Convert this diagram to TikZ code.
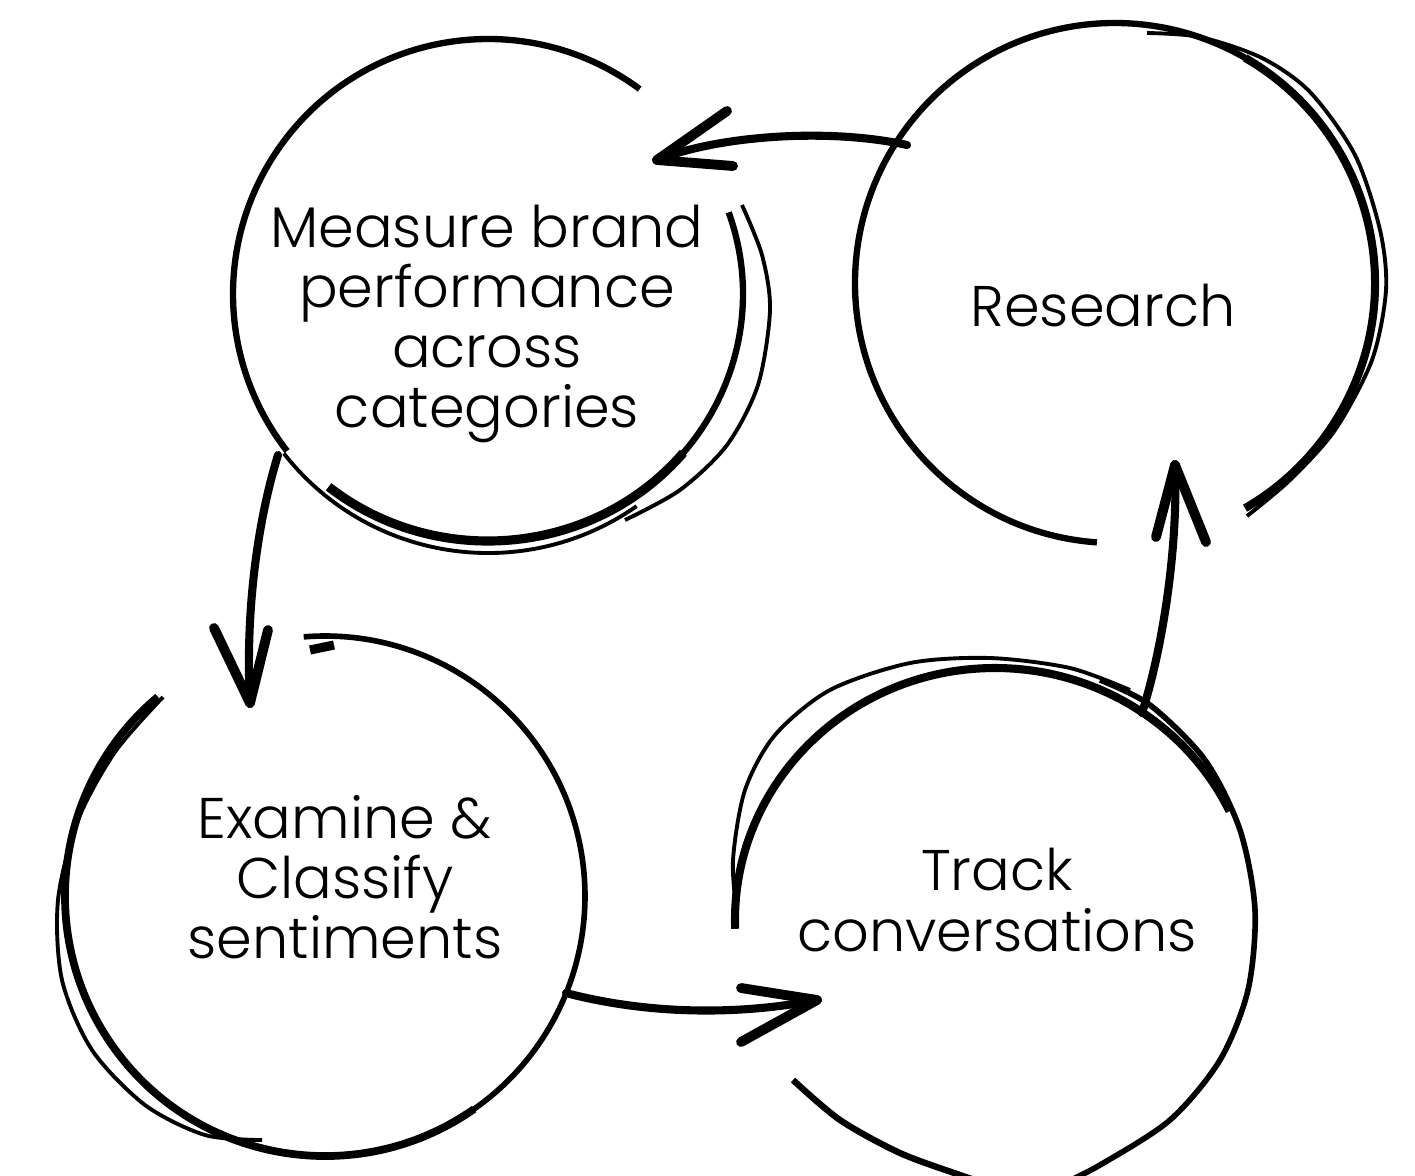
\documentclass[tikz,border=0pt]{standalone}
\usepackage{fontspec}
\IfFontExistsTF{Poppins Light}{\setmainfont{Poppins Light}}{%
  \IfFontExistsTF{Poppins-Light}{\setmainfont{Poppins-Light}}{\setmainfont{Poppins}}}

\begin{document}
\begin{tikzpicture}[x=0.01cm,y=-0.01cm,
    ring/.style={line width=1.8pt},
    ringthin/.style={line width=1.1pt},
    ringheavy/.style={line width=2.6pt},
    shaft/.style={line width=2.3pt,line cap=round},
    barb/.style={line width=2.8pt,line cap=round},
    label/.style={align=center,font=\fontsize{16.3}{17.1}\selectfont}]
        \useasboundingbox (0,0) rectangle (1415,1175);
        % centres of the sketched rings
        \coordinate (c1) at (488,294);
        \coordinate (c2) at (1115,283);
        \coordinate (c3) at (325,896);
        \coordinate (c4) at (995,920);
        % texts
        \node[label] (measure) at (487,324) {Measure brand\\performance\\across\\categories};
        \node[label] (research) at (1103,306) {Research};
        \node[label] (examine) at (345,877) {Examine \&\\Classify\\sentiments};
        \node[label] (track) at (997,900) {Track\\conversations};
        % ring 1
        \draw[ring] (c1) ++(-53.5:255) arc[start angle=-53.5, end angle=-218, radius=255];
        \draw[ringthin] (c1) ++(142:259) arc[start angle=142, end angle=55, radius=259];
        \draw[ring] (c1) ++(-19.3:255 and 247) arc[start angle=-19.3, end angle=45, x radius=255, y radius=247];
        \draw[ringheavy] (c1) ++(40:255 and 247) arc[start angle=40, end angle=128.7, x radius=255, y radius=247];
        \draw[ringthin] plot[smooth] coordinates {(742,205) (762,255) (770,310) (758,385) (727,445) (680,490) (625,520)};
        % ring 2
        \draw[ring] (c2) ++(94:260) arc[start angle=94, end angle=300, radius=260];
        \draw[line width=2.3pt] (c2) ++(300:260) arc[start angle=300, end angle=420, radius=260];
        \draw[ringthin] plot[smooth] coordinates {(1147,33) (1200,37) (1262,58) (1310,92) (1355,155) (1380,230) (1386,290) (1372,360) (1335,430) (1290,480) (1247,516)};
        % ring 3
        \draw[line width=1.6pt] (c3) ++(-94.7:260) arc[start angle=-94.7, end angle=60, radius=260];
        \draw[line width=2.2pt] (c3) ++(55:260) arc[start angle=55, end angle=230, radius=260];
        \draw[ringthin] plot[smooth] coordinates {(163,697) (115,752) (78,820) (58,900) (62,980) (92,1050) (145,1105) (205,1135) (262,1140)};
        \draw[ringheavy] (310,650) -- (334,645);
        % ring 4
        \draw[line width=2.3pt] (c4) ++(178:260 and 252) arc[start angle=178, end angle=334.4, x radius=260, y radius=252];
        \draw[ringthin] plot[smooth] coordinates {(737,915) (733,860) (745,790) (775,735) (830,690) (910,663) (990,658) (1070,668) (1130,690)};
        \draw[line width=1.6pt] plot[smooth] coordinates {(1100,680) (1150,705) (1205,760) (1240,830) (1255,910) (1248,990) (1220,1060) (1170,1120) (1100,1165) (1060,1185)};
        \draw[ring] plot[smooth] coordinates {(793,1080) (840,1120) (900,1153) (960,1175) (990,1185)};
        % arrow ends
        \coordinate (res-out) at (907,145);
        \coordinate (meas-in) at (657,160);
        \coordinate (meas-out) at (278,455);
        \coordinate (exam-in) at (250,703);
        \coordinate (exam-out) at (566,993);
        \coordinate (track-in) at (817,1000);
        \coordinate (track-out) at (1142,713);
        \coordinate (res-in) at (1175,465);
        % arrows
        \draw[shaft] (res-out) .. controls (830,128) and (720,135) .. (meas-in);
        \draw[barb] (meas-in) -- (727,111);
        \draw[barb] (meas-in) -- (733,166);
        \draw[shaft] (meas-out) .. controls (258,520) and (245,610) .. (exam-in);
        \draw[barb] (exam-in) -- (214,628);
        \draw[barb] (exam-in) -- (268,630);
        \draw[shaft] (exam-out) .. controls (650,1015) and (740,1015) .. (track-in);
        \draw[barb] (track-in) -- (741,988);
        \draw[barb] (track-in) -- (741,1042);
        \draw[shaft] (track-out) .. controls (1165,640) and (1178,540) .. (res-in);
        \draw[barb] (res-in) -- (1156,537);
        \draw[barb] (res-in) -- (1206,542);
    \end{tikzpicture}
\end{document}
